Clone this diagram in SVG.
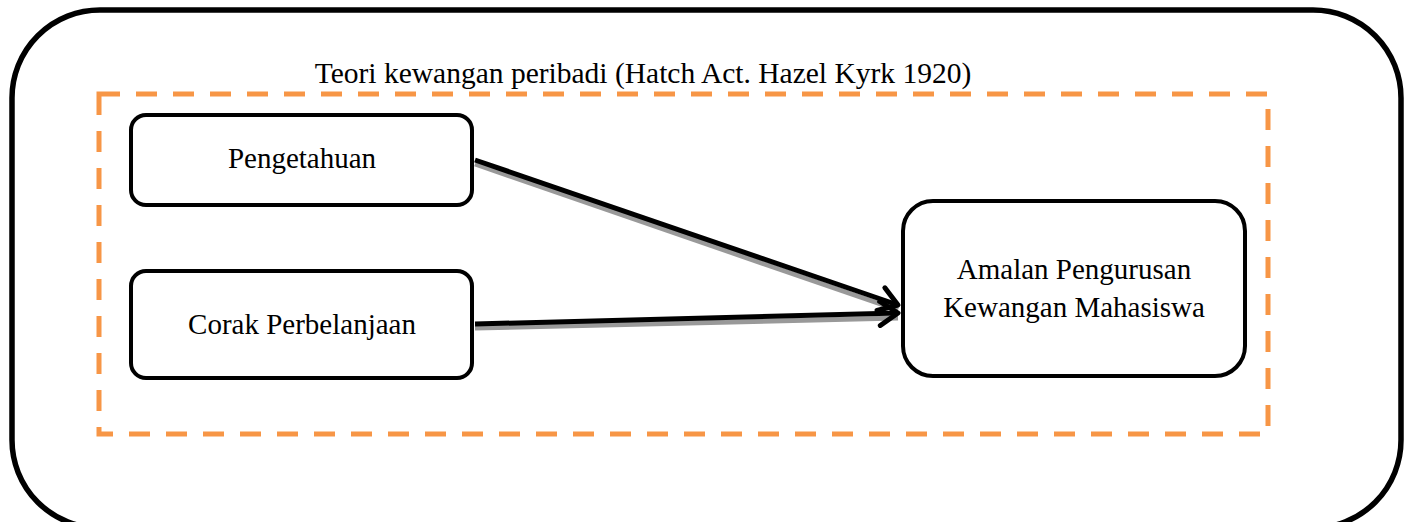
<svg xmlns="http://www.w3.org/2000/svg" width="1408" height="522" viewBox="0 0 1408 522">
<style>
.box{fill:#fff;stroke:#000;stroke-width:4}
.t{font-family:"Liberation Serif",serif;font-size:29px;fill:#000;text-anchor:middle}
.edge{stroke:#000;stroke-width:5;fill:none;marker-end:url(#ah)}
.sh{stroke:#999;stroke-width:5;fill:none}
</style>
<defs>
<marker id="ah" markerWidth="8" markerHeight="8" refX="6" refY="4" orient="auto" markerUnits="userSpaceOnUse" viewBox="0 0 8 8" overflow="visible">
<path d="M-12,-8 L6,4 L-12,16" fill="none" stroke="#000" stroke-width="5" stroke-linecap="round" stroke-linejoin="round"/>
</marker>
</defs>
<rect x="0" y="0" width="1408" height="522" fill="#fff"/>
<g id="frame">
<rect x="12" y="10" width="1389" height="518" rx="88" ry="88" fill="none" stroke="#000" stroke-width="5.5"/>
</g>
<g id="theory">
<rect x="99" y="94" width="1169" height="340" fill="none" stroke="#F79646" stroke-width="5" stroke-dasharray="21,16"/>
<text x="643" y="83" class="t" style="font-size:29.5px">Teori kewangan peribadi (Hatch Act. Hazel Kyrk 1920)</text>
</g>
<g id="connectors">
<line x1="475" y1="164" x2="898" y2="310" class="sh"/>
<line x1="475" y1="328" x2="898" y2="318" class="sh"/>
<line x1="475" y1="160" x2="898" y2="305" class="edge"/>
<line x1="475" y1="324" x2="898" y2="313" class="edge"/>
</g>
<g id="pengetahuan">
<rect x="131" y="115" width="341" height="90" rx="15" class="box"/>
<text x="302" y="168" class="t">Pengetahuan</text>
</g>
<g id="corak">
<rect x="131" y="271" width="341" height="107" rx="15" class="box"/>
<text x="302" y="334" class="t">Corak Perbelanjaan</text>
</g>
<g id="amalan">
<rect x="903" y="201" width="342" height="175" rx="30" class="box"/>
<text x="1074" y="279" class="t">Amalan Pengurusan</text>
<text x="1074" y="317" class="t">Kewangan Mahasiswa</text>
</g>
</svg>
